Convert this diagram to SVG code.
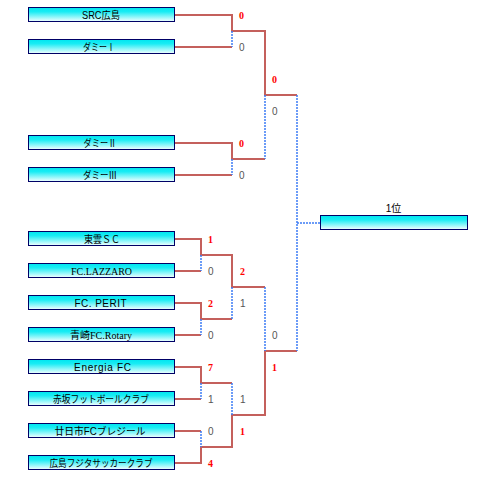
<svg xmlns="http://www.w3.org/2000/svg" width="477" height="489" viewBox="0 0 477 489">
<defs>
<linearGradient id="g" x1="0" y1="0" x2="0" y2="1">
<stop offset="0" stop-color="#00e6f0"/>
<stop offset="0.3" stop-color="#18ecf4"/>
<stop offset="1" stop-color="#f4ffff"/>
</linearGradient>
</defs>
<style>
.box{fill:url(#g);stroke:#000066;stroke-width:1}
.nm{font-family:"Liberation Sans","Noto Sans CJK JP",sans-serif;font-size:10px;fill:#000;text-anchor:middle}
.nms{font-family:"Liberation Serif","Noto Sans CJK JP",serif;font-size:10px;fill:#000;text-anchor:middle}
.w{fill:none;stroke:#c4605c;stroke-width:2}
.l{fill:none;stroke:#3d7cf5;stroke-width:1.5;stroke-dasharray:2 1}
.sr{font-family:"Liberation Serif",serif;font-size:10px;font-weight:bold;fill:#ff0000}
.sg{font-family:"Liberation Sans",sans-serif;font-size:10px;fill:#555555}
</style>
<rect width="477" height="489" fill="#ffffff"/>
<g id="connectors">
<path class="w" d="M175,15H232V31H265V95H297"/>
<path class="w" d="M175,47H232"/>
<path class="l" d="M232,31V47"/>
<path class="w" d="M175,143H232V159H265"/>
<path class="w" d="M175,175H232"/>
<path class="l" d="M232,159V175"/>
<path class="l" d="M265,95V159"/>
<path class="w" d="M175,239H201V255H232V287H265"/>
<path class="w" d="M175,271H201"/>
<path class="l" d="M201,255V271"/>
<path class="w" d="M175,303H201V319H232"/>
<path class="w" d="M175,335H201"/>
<path class="l" d="M201,319V335"/>
<path class="l" d="M232,287V319"/>
<path class="w" d="M175,367H201V383H232"/>
<path class="w" d="M175,399H201"/>
<path class="l" d="M201,383V399"/>
<path class="w" d="M175,463H201V447H232V415H265V351H297"/>
<path class="w" d="M175,431H201"/>
<path class="l" d="M201,431V447"/>
<path class="l" d="M232,383V415"/>
<path class="l" d="M265,287V351"/>
<path class="l" d="M297,95V351"/>
<path class="l" d="M297,223H320"/>
</g>
<g id="scores">
<text class="sr" x="239" y="18.5">0</text>
<text class="sg" x="239" y="50.5">0</text>
<text class="sr" x="239" y="146.5">0</text>
<text class="sg" x="239" y="178.5">0</text>
<text class="sr" x="272" y="82.5">0</text>
<text class="sg" x="272" y="114.5">0</text>
<text class="sr" x="208" y="242.5">1</text>
<text class="sg" x="208" y="274.5">0</text>
<text class="sr" x="208" y="306.5">2</text>
<text class="sg" x="208" y="338.5">0</text>
<text class="sr" x="208" y="370.5">7</text>
<text class="sg" x="208" y="402.5">1</text>
<text class="sg" x="208" y="434.5">0</text>
<text class="sr" x="208" y="466.5">4</text>
<text class="sr" x="240" y="274.5">2</text>
<text class="sg" x="240" y="306.5">1</text>
<text class="sg" x="240" y="402.5">1</text>
<text class="sr" x="240" y="434.5">1</text>
<text class="sg" x="272" y="338.5">0</text>
<text class="sr" x="272" y="370.5">1</text>
</g>
<g id="t1"><rect class="box" x="28.5" y="7.5" width="146" height="14"/><text class="nm" x="101" y="19" textLength="38" lengthAdjust="spacingAndGlyphs">SRC広島</text></g>
<g id="t2"><rect class="box" x="28.5" y="39.5" width="146" height="14"/><text class="nm" x="99" y="51" textLength="32" lengthAdjust="spacingAndGlyphs">ダミーⅠ</text></g>
<g id="t3"><rect class="box" x="28.5" y="135.5" width="146" height="14"/><text class="nm" x="100" y="147" textLength="33" lengthAdjust="spacingAndGlyphs">ダミーⅡ</text></g>
<g id="t4"><rect class="box" x="28.5" y="167.5" width="146" height="14"/><text class="nm" x="100" y="179" textLength="34" lengthAdjust="spacingAndGlyphs">ダミーⅢ</text></g>
<g id="t5"><rect class="box" x="28.5" y="231.5" width="146" height="14"/><text class="nm" x="102" y="243" textLength="36" lengthAdjust="spacingAndGlyphs">東雲ＳＣ</text></g>
<g id="t6"><rect class="box" x="28.5" y="263.5" width="146" height="14"/><text class="nms" x="101.5" y="275" textLength="61" lengthAdjust="spacingAndGlyphs">FC.LAZZARO</text></g>
<g id="t7"><rect class="box" x="28.5" y="295.5" width="146" height="14"/><text class="nm" x="100.5" y="307" textLength="52" lengthAdjust="spacing">FC. PERIT</text></g>
<g id="t8"><rect class="box" x="28.5" y="327.5" width="146" height="14"/><text class="nms" x="101" y="339" textLength="62" lengthAdjust="spacingAndGlyphs">青崎FC.Rotary</text></g>
<g id="t9"><rect class="box" x="28.5" y="359.5" width="146" height="14"/><text class="nm" x="102.5" y="371" textLength="57" lengthAdjust="spacing">Energia  FC</text></g>
<g id="t10"><rect class="box" x="28.5" y="391.5" width="146" height="14"/><text class="nm" x="101" y="403" textLength="96" lengthAdjust="spacingAndGlyphs">赤坂フットボールクラブ</text></g>
<g id="t11"><rect class="box" x="28.5" y="423.5" width="146" height="14"/><text class="nm" x="100" y="435" textLength="91" lengthAdjust="spacingAndGlyphs">廿日市FCブレジール</text></g>
<g id="t12"><rect class="box" x="28.5" y="455.5" width="146" height="14"/><text class="nm" x="101" y="467" textLength="103" lengthAdjust="spacingAndGlyphs">広島フジタサッカークラブ</text></g>
<g id="winner"><rect class="box" x="320.5" y="215.5" width="147" height="14"/><text class="nm" x="393.5" y="211.5">1位</text></g>
</svg>
